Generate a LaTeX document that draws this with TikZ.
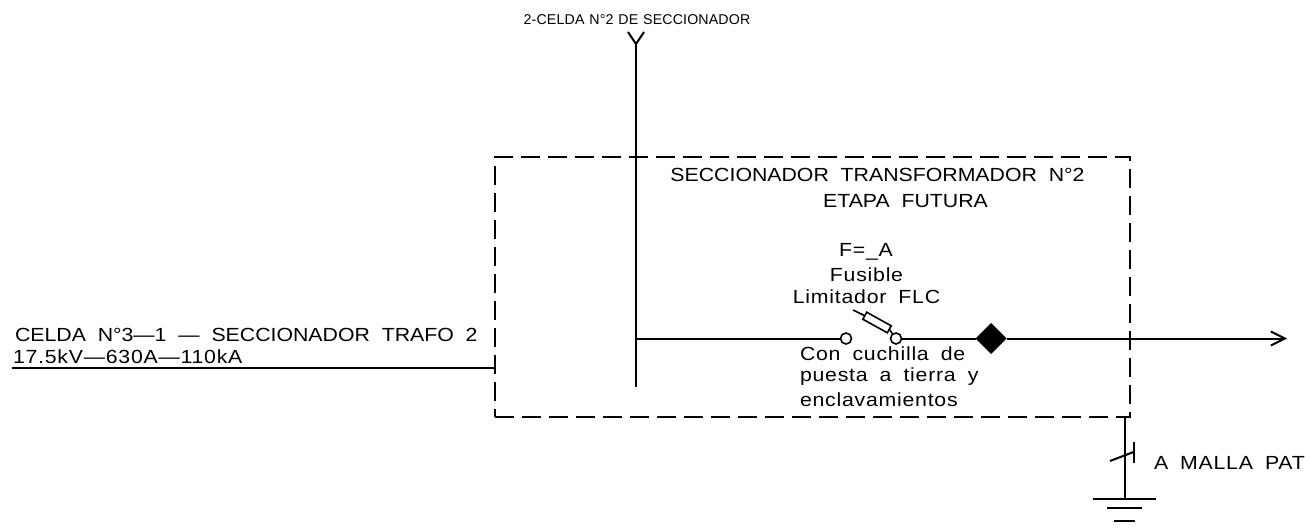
\documentclass[tikz,border=0pt]{standalone}
\usepackage{fontspec}
\usetikzlibrary{arrows.meta,shapes.geometric}
\newfontfamily\cadfont[FakeStretch=1.12,LetterSpace=4,WordSpace=1.8]{Liberation Sans}
\newfontfamily\cadfonttitle[FakeStretch=1.12,LetterSpace=0,WordSpace=2]{Liberation Sans}
\newfontfamily\cadfontsmall[LetterSpace=1,WordSpace=1.2]{Liberation Sans}
\tikzset{
	wire/.style={line width=1pt,line cap=butt},
	cadtext/.style={inner sep=0pt,outer sep=0pt,font=\cadfont\fontsize{9.5}{9.5}\selectfont},
	titletext/.style={inner sep=0pt,outer sep=0pt,font=\cadfonttitle\fontsize{9.5}{9.5}\selectfont},
	smalltext/.style={inner sep=0pt,outer sep=0pt,font=\cadfontsmall\fontsize{7.1}{7.5}\selectfont},
	contact/.style={shape=circle,draw,line width=.8pt,fill=white,minimum size=5.5pt,inner sep=0pt,outer sep=0pt},
}
\begin{document}
\begin{tikzpicture}[x=.5pt,y=-.5pt,>={Straight Barb[length=7pt,width=7pt]}]
	\useasboundingbox (0,0) rectangle (1310,531);
	% cuadro de la celda
	\node (box) at (812.5,287) [shape=rectangle,draw,line width=1pt,dash pattern=on 9.5pt off 4pt,minimum width=317.5pt,minimum height=130pt,outer sep=0pt,inner sep=0pt] {};
	% barra y llegada
	\coordinate (top) at (636,44);
	\coordinate (forkl) at (628,32);
	\coordinate (forkr) at (644,32);
	\coordinate (busend) at (636,387);
	\coordinate (busnode) at (636,339);
	\draw[wire] (forkl) -- (top) -- (forkr);
	\draw[wire] (top) -- (busend);
	\node (toplabel) at (637,20) [smalltext] {2-CELDA N°2 DE SECCIONADOR};
	% seccionador
	\node (swleft) at (846,338.5) [contact] {};
	\node (swright) at (896,338.5) [contact] {};
	\node (meter) at (991,338.5) [shape=diamond,fill=black,minimum width=15.5pt,minimum height=15.5pt,inner sep=0pt,outer sep=0pt] {};
	\coordinate (out) at (1287,338.5);
	\draw[wire] (busnode |- swleft) -- (swleft);
	\draw[wire] (swright) -- (meter);
	\draw[wire,->] (meter) -- (out);
	% fusible
	\coordinate (fusetip) at (853,310);
	\node (fuse) at (877,322.5) [shape=rectangle,draw,line width=.8pt,rotate=-29,minimum width=14pt,minimum height=4pt,inner sep=0pt,outer sep=0pt] {};
	\draw[line width=.8pt] (fusetip) -- (fuse.west);
	\draw[line width=.8pt] (fuse.east) -- (swright);
	% alimentador
	\coordinate (feed) at (12,367.5);
	\draw[wire] (feed) -- (box.west |- feed);
	% tierra
	\coordinate (gnd) at (1125,499);
	\coordinate (slasha) at (1110,461);
	\coordinate (slashb) at (1133.5,452);
	\coordinate (tickb) at (1133.5,442);
	\coordinate (ticke) at (1133.5,463);
	\coordinate (g1a) at (1093,499);
	\coordinate (g1b) at (1156,499);
	\coordinate (g2a) at (1107,508);
	\coordinate (g2b) at (1142,508);
	\coordinate (g3a) at (1114,521);
	\coordinate (g3b) at (1135,521);
	\draw[wire] (box.south -| gnd) -- (gnd);
	\draw[wire] (slasha) -- (slashb);
	\draw[wire] (tickb) -- (ticke);
	\draw[wire] (g1a) -- (g1b);
	\draw[wire] (g2a) -- (g2b);
	\draw[wire] (g3a) -- (g3b);
	% textos
	\node (title) at (877.5,175) [titletext] {SECCIONADOR TRANSFORMADOR N°2};
	\node (stage) at (905.5,201) [titletext] {ETAPA FUTURA};
	\node (fusea) at (866,252) [cadtext] {F=\_A};
	\node (fuseb) at (866.5,274.5) [cadtext] {Fusible};
	\node (fusec) at (866.5,297) [cadtext] {Limitador FLC};
	\node (nota) at (800,354) [cadtext,anchor=west] {Con cuchilla de};
	\node (notb) at (800,377) [cadtext,anchor=west] {puesta a tierra y};
	\node (notc) at (800,400) [cadtext,anchor=west] {enclavamientos};
	\node (feeda) at (15,335) [titletext,anchor=west] {CELDA N°3—1 — SECCIONADOR TRAFO 2};
	\node (feedb) at (13,357) [cadtext,anchor=west] {17.5kV—630A—110kA};
	\node (mesh) at (1154,463) [cadtext,anchor=west] {A MALLA PAT};
\end{tikzpicture}
\end{document}
